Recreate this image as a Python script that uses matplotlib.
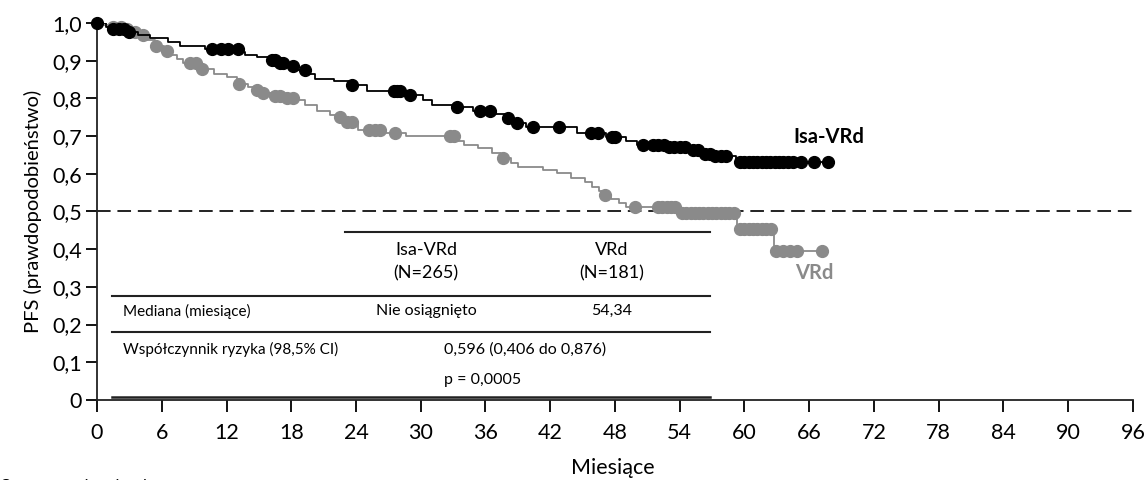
import numpy as np
import matplotlib
matplotlib.use("Agg")
import matplotlib.pyplot as plt

plt.rcParams['font.family'] = ['Lato', 'DejaVu Sans']

# Isa-VRd: step times / survival
isa_t = [0, 0.8, 1.5, 2.8, 3.8, 4.9, 6.6, 7.7, 10.0, 13.3, 13.7, 14.8, 15.8, 16.9,
         17.8, 18.5, 19.6, 20.2, 22.0, 23.4, 25.0, 28.8, 30.2, 31.0, 33.0, 34.8,
         36.8, 37.8, 38.6, 39.8, 44.5, 47.2, 49.0, 50.0, 53.0, 54.8, 55.8, 57.0, 59.2]
isa_s = [1.0, 0.99, 0.984, 0.976, 0.968, 0.96, 0.95, 0.94, 0.93, 0.922, 0.916, 0.91,
         0.903, 0.895, 0.886, 0.876, 0.865, 0.851, 0.846, 0.836, 0.82, 0.81, 0.797,
         0.783, 0.776, 0.766, 0.758, 0.748, 0.735, 0.725, 0.709, 0.698, 0.686, 0.676,
         0.671, 0.663, 0.652, 0.646, 0.632]
isa_end = 67.7
isa_cens = [0, 1.5, 2.0, 2.5, 3.0, 10.7, 11.5, 12.1, 13.1, 16.2, 16.5, 17.0, 17.2,
            18.2, 19.3, 23.6, 27.5, 27.8, 28.1, 29.0, 33.4, 35.5, 36.4, 38.1, 38.9,
            40.4, 42.8, 45.8, 46.4, 47.7, 48.0, 50.6, 51.5, 52.0, 52.5, 53.0, 53.5,
            54.0, 54.5, 55.2, 55.7, 56.3, 56.8, 57.3, 57.8, 58.3, 59.6, 60.0, 60.4,
            60.8, 61.2, 61.6, 62.0, 62.4, 62.8, 63.2, 63.6, 64.0, 64.5, 65.2, 66.4, 67.7]

# VRd
vrd_t = [0, 0.6, 1.2, 2.5, 3.2, 4.0, 4.6, 5.4, 6.2, 6.8, 7.4, 8.0, 9.6, 10.8, 12.0,
         13.0, 14.0, 14.6, 15.2, 16.2, 17.4, 18.4, 19.3, 20.4, 21.6, 22.4, 23.0, 24.2,
         26.8, 28.6, 33.4, 34.0, 35.3, 36.6, 37.4, 38.4, 39.0, 41.3, 42.6, 43.9, 45.2,
         45.9, 46.5, 47.0, 47.6, 48.4, 49.0, 53.9, 59.3, 62.7]
vrd_s = [1.0, 0.995, 0.99, 0.985, 0.976, 0.968, 0.955, 0.94, 0.925, 0.915, 0.905,
         0.895, 0.878, 0.866, 0.856, 0.838, 0.83, 0.822, 0.814, 0.807, 0.8, 0.795,
         0.783, 0.766, 0.757, 0.75, 0.738, 0.715, 0.708, 0.70, 0.686, 0.677, 0.668,
         0.656, 0.642, 0.629, 0.618, 0.61, 0.601, 0.589, 0.577, 0.566, 0.555, 0.544,
         0.532, 0.522, 0.512, 0.496, 0.453, 0.395]
vrd_end = 67.2
vrd_cens = [1.5, 2.2, 2.8, 3.5, 4.3, 5.5, 6.5, 8.6, 9.2, 9.7, 13.2, 14.8, 15.4, 16.5,
            17.0, 17.6, 18.2, 22.5, 23.2, 23.6, 25.2, 25.8, 26.2, 27.6, 32.7, 33.1,
            37.6, 47.1, 49.9, 52.0, 52.4, 52.8, 53.2, 53.6, 54.2, 54.6, 55.0, 55.4,
            55.8, 56.2, 56.6, 57.0, 57.4, 57.8, 58.2, 58.6, 59.0, 59.6, 60.0, 60.4,
            60.8, 61.2, 61.6, 62.0, 62.5, 62.9, 63.6, 64.2, 64.9, 67.2]

xticks = list(range(0, 97, 6))
yticks = [0, 0.1, 0.2, 0.3, 0.4, 0.5, 0.6, 0.7, 0.8, 0.9, 1.0]
ylabels = ['0', '0,1', '0,2', '0,3', '0,4', '0,5', '0,6', '0,7', '0,8', '0,9', '1,0']

GRAY = '#8a8a8a'


def step_val(t, s, x):
    i = np.searchsorted(t, x, side='right') - 1
    return np.array(s)[i]


fig = plt.figure(figsize=(11.48, 4.8), dpi=100)
ax = fig.add_axes([0.0845, 0.1667, 0.9024, 0.7854])

# curves
ax.step(vrd_t + [vrd_end], vrd_s + [vrd_s[-1]], where='post', color=GRAY, lw=1.3, zorder=3)
ax.plot(vrd_cens, step_val(vrd_t, vrd_s, vrd_cens), 'o', color=GRAY, ms=8.5, zorder=3,
        clip_on=False)
ax.step(isa_t + [isa_end], isa_s + [isa_s[-1]], where='post', color='black', lw=1.3, zorder=4)
ax.plot(isa_cens, step_val(isa_t, isa_s, isa_cens), 'o', color='black', ms=8.5, zorder=4,
        clip_on=False)

ax.plot([0, 96.5], [0.5, 0.5], ls=(0, (7, 3.5)), color='#222222', lw=1.4, clip_on=False,
        zorder=2)

ax.text(64.5, 0.698, 'Isa-VRd', fontsize=14.5, fontweight='bold', color='black', va='center')
ax.text(64.7, 0.337, 'VRd', fontsize=14.5, fontweight='bold', color=GRAY, va='center')

# table
tc = '#222222'
ax.plot([23.0, 56.8], [0.446, 0.446], color=tc, lw=1.5, clip_on=False)
ax.plot([1.4, 56.8], [0.276, 0.276], color=tc, lw=1.5, clip_on=False)
ax.plot([1.4, 56.8], [0.180, 0.180], color=tc, lw=1.5, clip_on=False)
ax.plot([1.4, 56.8], [0.008, 0.008], color=tc, lw=1.8, clip_on=False)
ax.text(30.5, 0.398, 'Isa-VRd', fontsize=13, ha='center', va='center')
ax.text(30.5, 0.337, '(N=265)', fontsize=13, ha='center', va='center')
ax.text(47.7, 0.398, 'VRd', fontsize=13, ha='center', va='center')
ax.text(47.7, 0.337, '(N=181)', fontsize=13, ha='center', va='center')
ax.text(2.4, 0.236, 'Mediana (miesiące)', fontsize=11, ha='left', va='center')
ax.text(30.5, 0.236, 'Nie osiągnięto', fontsize=11.5, ha='center', va='center')
ax.text(47.7, 0.236, '54,34', fontsize=11.5, ha='center', va='center')
ax.text(2.4, 0.135, 'Współczynnik ryzyka (98,5% CI)', fontsize=11, ha='left', va='center')
ax.text(32.2, 0.133, '0,596 (0,406 do 0,876)', fontsize=11.5, ha='left', va='center')
ax.text(32.2, 0.053, 'p = 0,0005', fontsize=11.5, ha='left', va='center')

ax.set_xlim(0, 96)
ax.set_ylim(0, 1.0)
ax.set_xticks(xticks)
ax.set_xticklabels([str(v) for v in xticks], fontsize=15.5)
ax.set_yticks(yticks)
ax.set_yticklabels(ylabels, fontsize=15.5)
ax.tick_params(axis='x', direction='out', length=8.5, width=1.3, pad=8)
ax.tick_params(axis='y', direction='out', length=8, width=1.3, pad=3)
for sp in ['top', 'right']:
    ax.spines[sp].set_visible(False)
for sp in ['left', 'bottom']:
    ax.spines[sp].set_linewidth(1.3)
    ax.spines[sp].set_color('#222222')

ax.set_ylabel('PFS (prawdopodobieństwo)', fontsize=14.5, labelpad=7)
fig.text(613 / 1148, 1 - 468 / 480, 'Miesiące', fontsize=15.5, ha='center', va='center')
fig.text(0.0, -0.012, 'Cenzurowani pacjenci', fontsize=11, ha='left', va='center')

fig.savefig('out.png', dpi=100)
